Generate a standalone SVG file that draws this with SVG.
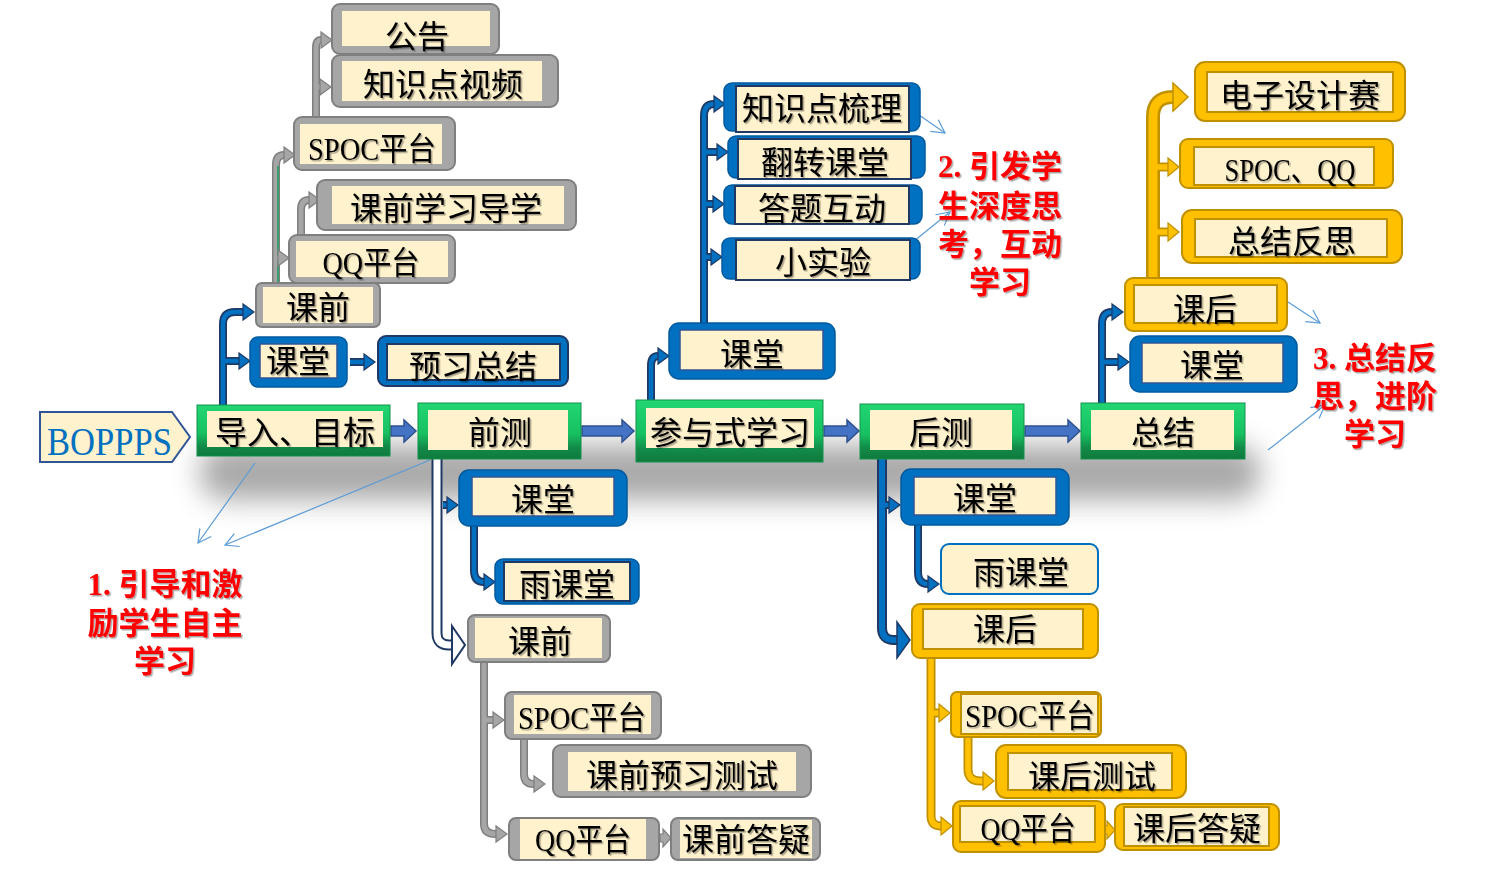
<svg xmlns="http://www.w3.org/2000/svg" width="1492" height="872" viewBox="0 0 1492 872">
<defs>
<style>
.t{font-family:"Liberation Serif","Noto Sans CJK SC",serif;font-size:32px;fill:#000;text-anchor:middle;filter:url(#ts)}
.red{font-family:"Liberation Serif","Noto Sans CJK SC",serif;font-size:31px;font-weight:bold;fill:#FF0000;text-anchor:middle;filter:url(#ts)}
.tb{font-family:"Liberation Serif",serif;font-size:40px;fill:#0070C0}
.bopp{fill:#FFF2CC;stroke:#2F5597;stroke-width:2}
.gr{fill:url(#gg);stroke:#13934C;stroke-width:1}
.in{fill:#FFF2CC}
.gy{fill:#A6A6A6;stroke:#7F7F7F;stroke-width:2}
.bl{fill:#0070C0;stroke:#005A9E;stroke-width:1.5}
.bli{fill:#FFF2CC;stroke:#2F5597;stroke-width:1.5}
.bld{fill:#FFF2CC;stroke:#1F3864;stroke-width:2}
.ye{fill:#FFC000;stroke:#BF9000;stroke-width:2}
.yei{fill:#FFF2CC;stroke:#BF9000;stroke-width:2}
.cbo{fill:none;stroke:#1F3864;stroke-width:8}
.cbi{fill:none;stroke:#0070C0;stroke-width:4.5}
.cgo{fill:none;stroke:#7F7F7F;stroke-width:8}
.cgi{fill:none;stroke:#A6A6A6;stroke-width:5}
.cyo{fill:none;stroke:#BF9000;stroke-width:9}
.cyi{fill:none;stroke:#FFC000;stroke-width:5.5}
.mb{fill:#4472C4;stroke:#2F528F;stroke-width:1.5}
.thin{fill:none;stroke:#5B9BD5;stroke-width:1.2}
</style>
<linearGradient id="gg" x1="0" y1="0" x2="0" y2="1">
<stop offset="0" stop-color="#22D672"/>
<stop offset="0.55" stop-color="#17C061"/>
<stop offset="0.8" stop-color="#128A48"/>
<stop offset="1" stop-color="#0F7A3D"/>
</linearGradient>
<filter id="ts" x="-10%" y="-20%" width="130%" height="150%">
<feDropShadow dx="1.5" dy="1.5" stdDeviation="0.7" flood-color="#000" flood-opacity="0.35"/>
</filter>
<filter id="blur" x="-20%" y="-100%" width="140%" height="300%">
<feGaussianBlur stdDeviation="14"/>
</filter>
<marker id="mB" viewBox="0 0 12 16" refX="0" refY="8" markerWidth="12" markerHeight="16" orient="auto" markerUnits="userSpaceOnUse" overflow="visible">
<path d="M0,0 L11,8 L0,16 Z" fill="#0070C0" stroke="#1F3864" stroke-width="1.2"/>
</marker>
<marker id="mBbig" viewBox="0 0 14 36" refX="0" refY="18" markerWidth="14" markerHeight="36" orient="auto" markerUnits="userSpaceOnUse" overflow="visible">
<path d="M0,0 L13,18 L0,36 Z" fill="#0070C0" stroke="#1F3864" stroke-width="1.5"/>
</marker>
<marker id="mH" viewBox="0 0 14 38" refX="0" refY="19" markerWidth="14" markerHeight="38" orient="auto" markerUnits="userSpaceOnUse" overflow="visible">
<path d="M0,0 L13,19 L0,38 Z" fill="#FFFFFF" stroke="#1F3864" stroke-width="2"/>
</marker>
<marker id="mG" viewBox="0 0 12 16" refX="0" refY="8" markerWidth="12" markerHeight="16" orient="auto" markerUnits="userSpaceOnUse" overflow="visible">
<path d="M0,0 L11,8 L0,16 Z" fill="#A6A6A6" stroke="#7F7F7F" stroke-width="1.2"/>
</marker>
<marker id="mY" viewBox="0 0 12 18" refX="0" refY="9" markerWidth="12" markerHeight="18" orient="auto" markerUnits="userSpaceOnUse" overflow="visible">
<path d="M0,0 L11,9 L0,18 Z" fill="#FFC000" stroke="#BF9000" stroke-width="1.2"/>
</marker>
<marker id="mYbig" viewBox="0 0 16 28" refX="0" refY="14" markerWidth="16" markerHeight="28" orient="auto" markerUnits="userSpaceOnUse" overflow="visible">
<path d="M0,0 L15,14 L0,28 Z" fill="#FFC000" stroke="#BF9000" stroke-width="1.5"/>
</marker>
<marker id="mT" viewBox="0 0 14 14" refX="13" refY="7" markerWidth="14" markerHeight="14" orient="auto" markerUnits="userSpaceOnUse" overflow="visible">
<path d="M0,0 L13,7 L0,14" fill="none" stroke="#5B9BD5" stroke-width="1.2"/>
</marker>
</defs>

<rect x="0" y="0" width="1492" height="872" fill="#FFFFFF"/>

<!-- shadow under main row -->
<rect x="200" y="445" width="1060" height="55" rx="25" fill="#8C8C8C" opacity="0.75" filter="url(#blur)"/>

<!-- connectors -->
<g id="connectors">
<!-- main row block arrows -->
<polygon class="mb" points="391,426 404,426 404,420 416,431 404,442 404,436 391,436"/>
<polygon class="mb" points="582,426 622,426 622,420 634,431 622,442 622,436 582,436"/>
<polygon class="mb" points="824,426 847,426 847,420 859,431 847,442 847,436 824,436"/>
<polygon class="mb" points="1025,426 1068,426 1068,420 1080,431 1068,442 1068,436 1025,436"/>

<!-- blue connectors: outers -->
<path class="cbo" d="M223,405 V324 Q223,312 235,312 H243"/>
<path class="cbo" d="M223,361 H239"/>
<path class="cbo" d="M350,362 H364"/>
<path class="cbo" d="M651,400 V366 Q651,356 658,356"/>
<path class="cbo" d="M704,323 V116 Q704,104 714,104"/>
<path class="cbo" d="M704,152 H717"/>
<path class="cbo" d="M704,204 H713"/>
<path class="cbo" d="M704,257 H711"/>
<path class="cbo" d="M1102,403 V324 Q1102,312 1112,312"/>
<path class="cbo" d="M1102,362 H1118"/>
<path class="cbo" style="stroke-width:10" d="M882,458 V628 Q882,640 894,640 H897"/>
<path class="cbo" d="M882,505 H889"/>
<path class="cbo" d="M918,524 V572 Q918,584 928,584"/>
<path class="cbo" d="M474,526 V570 Q474,582 484,582"/>
<!-- hollow -->
<path fill="none" stroke="#1F3864" stroke-width="11" d="M437,458 V633 Q437,645 449,645 H452"/>
<path fill="none" stroke="#FFFFFF" stroke-width="7" marker-end="url(#mH)" d="M437,457 V633 Q437,645 449,645 H452"/>
<path class="cbo" d="M443,505 H447"/>

<!-- blue inners -->
<path class="cbi" marker-end="url(#mB)" d="M223,405 V324 Q223,312 235,312 H243"/>
<path class="cbi" marker-end="url(#mB)" d="M223,361 H239"/>
<path class="cbi" marker-end="url(#mB)" d="M350,362 H364"/>
<path class="cbi" marker-end="url(#mB)" d="M651,400 V366 Q651,356 658,356"/>
<path class="cbi" marker-end="url(#mB)" d="M704,323 V116 Q704,104 714,104"/>
<path class="cbi" marker-end="url(#mB)" d="M704,152 H717"/>
<path class="cbi" marker-end="url(#mB)" d="M704,204 H713"/>
<path class="cbi" marker-end="url(#mB)" d="M704,257 H711"/>
<path class="cbi" marker-end="url(#mB)" d="M1102,403 V324 Q1102,312 1112,312"/>
<path class="cbi" marker-end="url(#mB)" d="M1102,362 H1118"/>
<path class="cbi" style="stroke-width:6" marker-end="url(#mBbig)" d="M882,458 V628 Q882,640 894,640 H897"/>
<path class="cbi" marker-end="url(#mB)" d="M882,505 H889"/>
<path class="cbi" marker-end="url(#mB)" d="M918,524 V572 Q918,584 928,584"/>
<path class="cbi" marker-end="url(#mB)" d="M474,526 V570 Q474,582 484,582"/>
<path class="cbi" marker-end="url(#mB)" d="M443,505 H447"/>

<!-- gray outers -->
<path class="cgo" d="M276,283 V165 Q276,155 284,155"/>
<path class="cgo" d="M276,258 H278"/>
<path class="cgo" d="M301,235 V210 Q301,200 309,200"/>
<path class="cgo" d="M316,117 V48 Q316,40 321,40"/>
<path class="cgo" d="M316,87 H320"/>
<path class="cgo" d="M484,662 V824 Q484,834 496,834"/>
<path class="cgo" d="M484,720 H493"/>
<path class="cgo" d="M524,738 V774 Q524,784 534,784"/>
<!-- gray inners -->
<path class="cgi" marker-end="url(#mG)" d="M276,283 V165 Q276,155 284,155"/>
<path fill="none" stroke="#3C9E6E" stroke-width="2" d="M278,282 V166"/>
<path class="cgi" marker-end="url(#mG)" d="M276,258 H278"/>
<path class="cgi" marker-end="url(#mG)" d="M301,235 V210 Q301,200 309,200"/>
<path class="cgi" marker-end="url(#mG)" d="M316,117 V48 Q316,40 321,40"/>
<path class="cgi" marker-end="url(#mG)" d="M316,87 H320"/>
<path class="cgi" marker-end="url(#mG)" d="M484,662 V824 Q484,834 496,834"/>
<path class="cgi" marker-end="url(#mG)" d="M484,720 H493"/>
<path class="cgi" marker-end="url(#mG)" d="M524,738 V774 Q524,784 534,784"/>
<polygon points="660,834 663,834 663,829 671,838 663,847 663,842 660,842" fill="#A6A6A6" stroke="#7F7F7F" stroke-width="1.2"/>

<!-- yellow outers -->
<path class="cyo" style="stroke-width:14" d="M1153,278 V117 Q1153,97 1173,97"/>
<path class="cyo" d="M1153,167 H1168"/>
<path class="cyo" d="M1153,232 H1168"/>
<path class="cyo" d="M931,652 V816 Q931,826 941,826"/>
<path class="cyo" d="M931,713 H939"/>
<path class="cyo" d="M968,736 V769 Q968,781 980,781 H983"/>
<!-- yellow inners -->
<path class="cyi" style="stroke-width:9" marker-end="url(#mYbig)" d="M1153,278 V117 Q1153,97 1173,97"/>
<path class="cyi" marker-end="url(#mY)" d="M1153,167 H1168"/>
<path class="cyi" marker-end="url(#mY)" d="M1153,232 H1168"/>
<path class="cyi" marker-end="url(#mY)" d="M931,652 V816 Q931,826 941,826"/>
<path class="cyi" marker-end="url(#mY)" d="M931,713 H939"/>
<path class="cyi" marker-end="url(#mY)" d="M968,736 V769 Q968,781 980,781 H983"/>
<polygon points="1105,826 1107,826 1107,821 1115,830 1107,839 1107,834 1105,834" fill="#FFC000" stroke="#BF9000" stroke-width="1.2"/>

<!-- thin annotation arrows -->
<line class="thin" x1="255" y1="463" x2="198" y2="543" marker-end="url(#mT)"/>
<line class="thin" x1="430" y1="460" x2="225" y2="545" marker-end="url(#mT)"/>
<line class="thin" x1="880" y1="88" x2="945" y2="133" marker-end="url(#mT)"/>
<line class="thin" x1="893" y1="258" x2="950" y2="212" marker-end="url(#mT)"/>
<line class="thin" x1="1288" y1="302" x2="1320" y2="323" marker-end="url(#mT)"/>
<line class="thin" x1="1268" y1="450" x2="1325" y2="405" marker-end="url(#mT)"/>
</g>

<!-- main row -->
<g id="n-boppps"><polygon class="bopp" points="40,412 172,412 190,437 172,462 40,462"/><text class="tb" x="47" y="455" textLength="125" lengthAdjust="spacingAndGlyphs">BOPPPS</text></g>
<g id="n-daoru"><rect class="gr" x="197" y="405" width="193" height="51"/><rect class="in" x="207" y="411" width="176" height="36"/><text class="t" x="295" y="444">导入、目标</text></g>
<g id="n-qiance"><rect class="gr" x="418" y="403" width="163" height="56"/><rect class="in" x="428" y="410" width="140" height="40"/><text class="t" x="500" y="444">前测</text></g>
<g id="n-canyu"><rect class="gr" x="636" y="400" width="187" height="62"/><rect class="in" x="646" y="408" width="168" height="40"/><text class="t" x="730" y="444">参与式学习</text></g>
<g id="n-houce"><rect class="gr" x="860" y="404" width="164" height="55"/><rect class="in" x="870" y="410" width="142" height="40"/><text class="t" x="941" y="444">后测</text></g>
<g id="n-zongjie"><rect class="gr" x="1081" y="403" width="164" height="56"/><rect class="in" x="1091" y="410" width="143" height="40"/><text class="t" x="1163" y="444">总结</text></g>

<!-- top-left branch -->
<g id="n-kq1"><rect class="gy" x="256" y="283" width="124" height="44" rx="6"/><rect class="in" x="263" y="287" width="110" height="36"/><text class="t" x="318" y="319">课前</text></g>
<g id="n-kt1"><rect class="bl" x="250" y="337" width="97" height="50" rx="8"/><rect class="bli" x="260" y="344" width="77" height="34"/><text class="t" x="298" y="373">课堂</text></g>
<g id="n-yxzj"><rect class="bl" x="378" y="336" width="190" height="50" rx="8" style="stroke:#1F3864;stroke-width:2"/><rect class="bld" x="387" y="344" width="173" height="36"/><text class="t" x="473" y="378">预习总结</text></g>
<g id="n-spoc1"><rect class="gy" x="294" y="117" width="161" height="53" rx="8"/><rect class="in" x="300" y="124" width="142" height="40"/><text class="t" x="372" y="160" textLength="128" lengthAdjust="spacingAndGlyphs">SPOC平台</text></g>
<g id="n-qq1"><rect class="gy" x="289" y="235" width="166" height="48" rx="8"/><rect class="in" x="296" y="241" width="152" height="36"/><text class="t" x="371" y="274" textLength="97" lengthAdjust="spacingAndGlyphs">QQ平台</text></g>
<g id="n-kqxxdx"><rect class="gy" x="317" y="180" width="259" height="50" rx="8"/><rect class="in" x="332" y="186" width="232" height="38"/><text class="t" x="446" y="220">课前学习导学</text></g>
<g id="n-gonggao"><rect class="gy" x="332" y="4" width="167" height="50" rx="8"/><rect class="in" x="342" y="11" width="148" height="35"/><text class="t" x="417" y="48">公告</text></g>
<g id="n-zsdsp"><rect class="gy" x="332" y="55" width="226" height="52" rx="8"/><rect class="in" x="342" y="61" width="200" height="40"/><text class="t" x="443" y="96">知识点视频</text></g>

<!-- middle-top branch -->
<g id="n-kt2"><rect class="bl" x="669" y="323" width="166" height="56" rx="10"/><rect class="bli" x="680" y="330" width="143" height="40"/><text class="t" x="752" y="366">课堂</text></g>
<g id="n-zsdsl"><rect class="bl" x="724" y="83" width="196" height="48" rx="8"/><rect class="bld" x="736" y="86" width="173" height="46"/><text class="t" x="822" y="120">知识点梳理</text></g>
<g id="n-fzkt"><rect class="bl" x="728" y="136" width="197" height="42" rx="8"/><rect class="bld" x="738" y="139" width="173" height="40"/><text class="t" x="825" y="174">翻转课堂</text></g>
<g id="n-dthd"><rect class="bl" x="724" y="185" width="198" height="39" rx="8"/><rect class="bld" x="735" y="186" width="174" height="38"/><text class="t" x="822" y="220">答题互动</text></g>
<g id="n-xsy"><rect class="bl" x="722" y="238" width="198" height="41" rx="8"/><rect class="bld" x="736" y="240" width="174" height="40"/><text class="t" x="823" y="274">小实验</text></g>

<!-- right-top branch -->
<g id="n-kh1"><rect class="ye" x="1125" y="278" width="162" height="53" rx="8"/><rect class="yei" x="1134" y="285" width="143" height="38"/><text class="t" x="1205" y="321">课后</text></g>
<g id="n-kt3"><rect class="bl" x="1130" y="336" width="167" height="56" rx="10"/><rect class="bli" x="1142" y="343" width="141" height="40"/><text class="t" x="1212" y="377">课堂</text></g>
<g id="n-dzsjs"><rect class="ye" x="1195" y="62" width="210" height="59" rx="10"/><rect class="yei" x="1207" y="72" width="186" height="40"/><text class="t" x="1300" y="107">电子设计赛</text></g>
<g id="n-spocqq"><rect class="ye" x="1180" y="139" width="213" height="49" rx="8"/><rect class="yei" x="1194" y="147" width="180" height="38"/><text class="t" x="1290" y="181" textLength="131" lengthAdjust="spacingAndGlyphs">SPOC、QQ</text></g>
<g id="n-zjfs"><rect class="ye" x="1182" y="210" width="220" height="53" rx="10"/><rect class="yei" x="1195" y="219" width="192" height="38"/><text class="t" x="1292" y="253">总结反思</text></g>

<!-- bottom-left branch -->
<g id="n-kt4"><rect class="bl" x="459" y="470" width="168" height="56" rx="10"/><rect class="bli" x="472" y="477" width="142" height="39"/><text class="t" x="543" y="511">课堂</text></g>
<g id="n-ykt1"><rect class="bl" x="495" y="559" width="144" height="45" rx="8"/><rect class="bld" x="504" y="562" width="126" height="39"/><text class="t" x="567" y="596">雨课堂</text></g>
<g id="n-kq2"><rect class="gy" x="468" y="615" width="142" height="47" rx="7"/><rect class="in" x="475" y="618" width="127" height="40"/><text class="t" x="540" y="653">课前</text></g>
<g id="n-spoc2"><rect class="gy" x="505" y="692" width="156" height="47" rx="7"/><rect class="in" x="514" y="695" width="137" height="39"/><text class="t" x="582" y="729" textLength="128" lengthAdjust="spacingAndGlyphs">SPOC平台</text></g>
<g id="n-kqyxcs"><rect class="gy" x="553" y="745" width="258" height="52" rx="8"/><rect class="in" x="568" y="752" width="228" height="39"/><text class="t" x="682" y="787">课前预习测试</text></g>
<g id="n-qq2"><rect class="gy" x="509" y="818" width="150" height="42" rx="7"/><rect class="in" x="520" y="819" width="126" height="40"/><text class="t" x="583" y="851" textLength="96" lengthAdjust="spacingAndGlyphs">QQ平台</text></g>
<g id="n-kqdy"><rect class="gy" x="671" y="818" width="149" height="42" rx="7"/><rect class="in" x="680" y="820" width="132" height="38"/><text class="t" x="746" y="851">课前答疑</text></g>

<!-- bottom-right branch -->
<g id="n-kt5"><rect class="bl" x="901" y="469" width="168" height="56" rx="10"/><rect class="bli" x="914" y="477" width="142" height="38"/><text class="t" x="985" y="510">课堂</text></g>
<g id="n-ykt2"><rect x="941" y="544" width="157" height="50" rx="8" fill="#FFF2CC" stroke="#0070C0" stroke-width="2"/><text class="t" x="1021" y="584">雨课堂</text></g>
<g id="n-kh2"><rect class="ye" x="912" y="604" width="186" height="54" rx="8"/><rect class="yei" x="923" y="609" width="160" height="40"/><text class="t" x="1005" y="641">课后</text></g>
<g id="n-spoc3"><rect class="ye" x="951" y="692" width="150" height="45" rx="6"/><rect class="yei" x="961" y="694" width="137" height="40"/><text class="t" x="1030" y="727" textLength="130" lengthAdjust="spacingAndGlyphs">SPOC平台</text></g>
<g id="n-khcs"><rect class="ye" x="996" y="745" width="190" height="53" rx="10"/><rect class="yei" x="1008" y="753" width="164" height="37"/><text class="t" x="1092" y="788">课后测试</text></g>
<g id="n-qq3"><rect class="ye" x="953" y="801" width="152" height="51" rx="8"/><rect class="yei" x="960" y="806" width="135" height="36"/><text class="t" x="1028" y="840" textLength="95" lengthAdjust="spacingAndGlyphs">QQ平台</text></g>
<g id="n-khdy"><rect class="ye" x="1115" y="804" width="164" height="46" rx="8"/><rect class="yei" x="1124" y="807" width="145" height="39"/><text class="t" x="1197" y="840">课后答疑</text></g>

<!-- annotations -->
<g id="note1">
<text class="red" x="165" y="595">1. 引导和激</text>
<text class="red" x="165" y="634">励学生自主</text>
<text class="red" x="165" y="672">学习</text>
</g>
<g id="note2">
<text class="red" x="1000" y="177">2. 引发学</text>
<text class="red" x="1000" y="217">生深度思</text>
<text class="red" x="1000" y="255">考，互动</text>
<text class="red" x="1000" y="293">学习</text>
</g>
<g id="note3">
<text class="red" x="1375" y="369">3. 总结反</text>
<text class="red" x="1375" y="407">思，进阶</text>
<text class="red" x="1375" y="445">学习</text>
</g>
</svg>
